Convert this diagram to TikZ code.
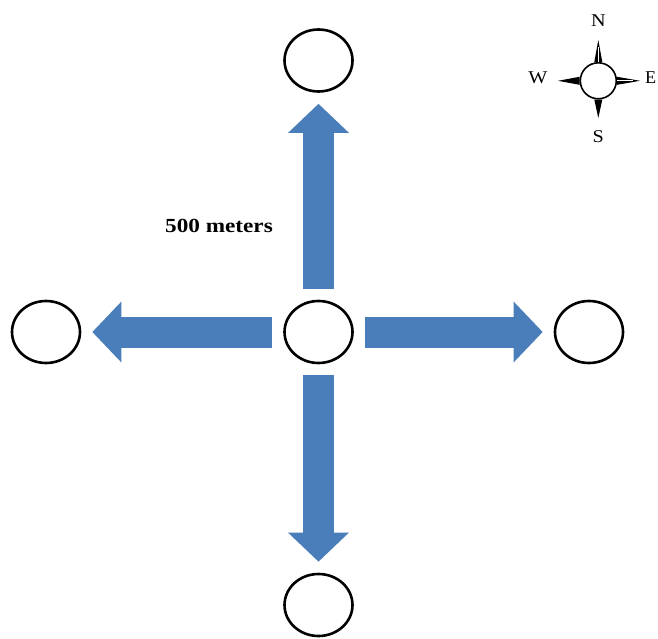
\documentclass[tikz,border=0pt]{standalone}
\usepackage{fontspec}
\setmainfont{Liberation Serif}
\usetikzlibrary{arrows.meta,shapes.geometric}
\definecolor{arrowblue}{HTML}{4A7EBB}
\begin{document}
\begin{tikzpicture}[x=1pt,y=-1pt,
  spot/.style={ellipse,draw=black,line width=2.6pt,fill=white,
    minimum width=68pt,minimum height=62pt,inner sep=0pt},
  bigarrow/.style={draw=arrowblue,line width=31pt,
    -{Triangle[width=59pt,length=29pt]},
    shorten <=11pt,shorten >=11pt},
  dirlabel/.style={font=\fontsize{18}{18}\selectfont,xscale=1.12,anchor=base,inner sep=0pt},
  spike/.style={fill=black}
]
\clip (0,0) rectangle (658,639);
\fill[white] (0,0) rectangle (658,639);

% five locations
\node[spot] (c) at (318.5,332) {};
\node[spot] (n) at (318.5,60.5) {};
\node[spot] (s) at (318.5,605) {};
\node[spot] (w) at (46,332) {};
\node[spot] (e) at (589,332) {};

% directions of travel
\draw[bigarrow] (c) -- (n);
\draw[bigarrow] (c) -- (s);
\draw[bigarrow] (c) -- (w);
\draw[bigarrow] (c) -- (e);

\node[font=\bfseries\fontsize{20}{20}\selectfont,xscale=1.16,anchor=base,inner sep=0pt]
  (dist) at (219,232) {500 meters};

% compass rose
\node[circle,draw=black,line width=1.6pt,minimum size=36pt,inner sep=0pt] (rose) at (598.3,80.8) {};
\fill[spike] ([xshift=-4pt]rose.north) -- (598.3,40) -- ([xshift=4pt]rose.north) -- cycle;
\fill[spike] ([xshift=-4pt]rose.south) -- (598.3,118) -- ([xshift=4pt]rose.south) -- cycle;
\fill[spike] ([yshift=-4pt]rose.west) -- (558,80.8) -- ([yshift=4pt]rose.west) -- cycle;
\fill[spike] ([yshift=-4pt]rose.east) -- (640,80.8) -- ([yshift=4pt]rose.east) -- cycle;
\draw[white,line width=0.6pt] (rose.north) -- (598.3,47);
\draw[white,line width=0.6pt] (rose.east) -- (633,80.8);
\node[dirlabel] (lN) at (598.3,27) {N};
\node[dirlabel] (lS) at (598.3,143) {S};
\node[dirlabel] (lW) at (538,84) {W};
\node[dirlabel,xscale=0.9,anchor=base west] (lE) at (645,84) {E};
\end{tikzpicture}
\end{document}
